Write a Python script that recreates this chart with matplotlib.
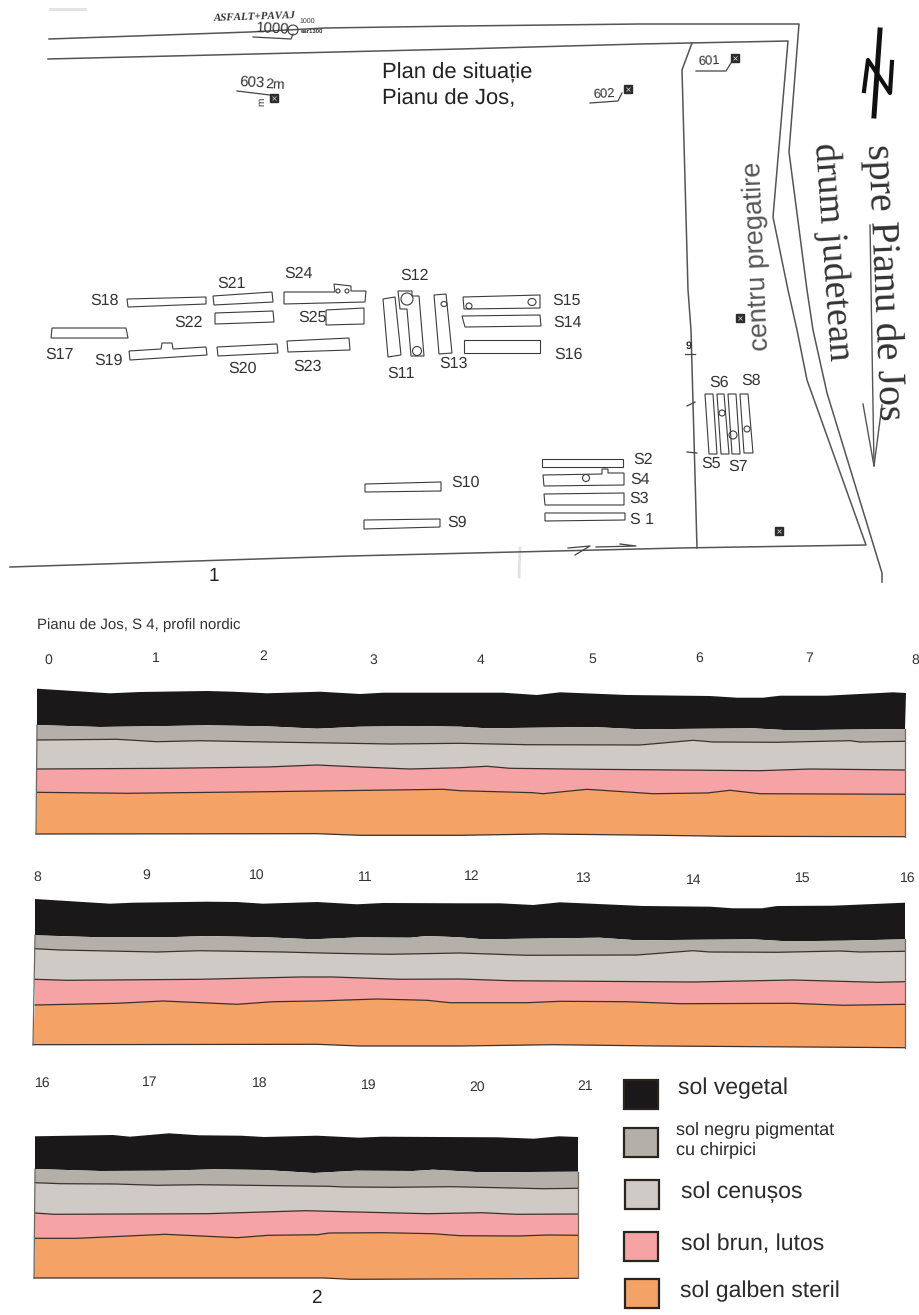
#!/usr/bin/env python3

import matplotlib
matplotlib.use('Agg')
import matplotlib.pyplot as plt
from matplotlib.patches import Ellipse, Polygon, Rectangle

plt.rcParams['font.family'] = ['Liberation Sans', 'DejaVu Sans']
plt.rcParams['text.hinting'] = 'no_hinting'
plt.rcParams['text.hinting_factor'] = 1

layer_names = ['sol vegetal', 'sol negru pigmentat\ncu chirpici', 'sol cenușos',
               'sol brun, lutos', 'sol galben steril']
layer_colors = ['#1a1818', '#b4afa8', '#cfcac5', '#f5a3a4', '#f5a267']

# profile 1, metres 0-8
p1_top_x = [37, 110, 140, 207, 233, 267, 320, 360, 383, 460, 503, 537, 560, 627, 710, 737, 763, 780, 827, 893, 906]
p1_top_y = [688.7, 693.3, 692, 691, 691.7, 693.3, 691.7, 694, 692.7, 692.7, 692.7, 695, 692.3, 695, 696, 697.7, 697.7, 695.7, 695.7, 692.3, 693]
p1_b2_x = [37, 100, 167, 207, 267, 317, 360, 417, 460, 487, 593, 640, 753, 790, 837, 905]
p1_b2_y = [725, 727, 726, 725.3, 726.3, 728.7, 726.7, 726, 726.7, 728.3, 727, 729.3, 728.3, 730.3, 729.7, 729]
p1_b3_x = [37, 117, 157, 200, 267, 333, 390, 460, 527, 640, 693, 713, 777, 850, 860, 905]
p1_b3_y = [740, 739.3, 741.7, 740.7, 742, 743, 744, 743.3, 744.7, 745, 740.3, 742, 742.3, 740.7, 742, 741.3]
p1_b4_x = [37, 167, 267, 317, 360, 410, 460, 487, 510, 593, 760, 810, 905]
p1_b4_y = [769, 768.3, 767, 765, 767, 769, 767.7, 766.3, 768.3, 769.3, 770.7, 769, 770]
p1_b5_x = [37, 127, 267, 443, 460, 533, 543, 587, 653, 707, 730, 760, 905]
p1_b5_y = [792.3, 793.3, 791.7, 789.3, 790.7, 792.7, 793.7, 789.3, 793.7, 793, 790.3, 793.7, 794.3]
p1_bot_x = [36, 317, 360, 460, 543, 660, 727, 905]
p1_bot_y = [834, 833.7, 835.3, 835.3, 834, 835.3, 836.3, 836.7]

# profile 2, metres 8-16
p2_top_x = [35, 110, 133, 207, 237, 263, 317, 357, 383, 460, 500, 533, 560, 643, 710, 733, 762, 777, 833, 905]
p2_top_y = [899, 903.7, 902.7, 901.7, 902, 903.7, 902, 904.3, 903, 903.3, 903.3, 905, 902.3, 906, 906.7, 908.3, 908.3, 906, 905.7, 902.7]
p2_b2_x = [35, 100, 167, 207, 267, 313, 360, 410, 427, 460, 483, 600, 637, 753, 787, 843, 905]
p2_b2_y = [935.3, 937.3, 937.3, 936, 937.3, 939.3, 937.3, 937.7, 936, 937.3, 939.3, 937.7, 940.3, 939.3, 941.3, 940.7, 939.3]
p2_b3_x = [35, 60, 157, 200, 283, 333, 390, 460, 527, 637, 693, 710, 777, 840, 860, 905]
p2_b3_y = [948.7, 950, 952, 950.7, 952, 953.3, 954.3, 953, 955.3, 955, 950.7, 952, 952.3, 951, 952, 951.3]
p2_b4_x = [35, 67, 200, 300, 333, 400, 460, 510, 693, 793, 877, 905]
p2_b4_y = [979.3, 980.3, 979.3, 977, 977, 979.3, 979, 980.7, 982, 980, 982.3, 981.7]
p2_b5_x = [35, 117, 163, 237, 273, 317, 377, 427, 450, 460, 527, 560, 627, 680, 793, 843, 905]
p2_b5_y = [1005, 1003.3, 1001, 1004.3, 1001.7, 1001, 999, 1000.3, 1002.7, 1002.7, 1002.7, 1001.3, 1001.7, 1003.7, 1003.3, 1005.3, 1004.3]
p2_bot_x = [33, 317, 360, 460, 553, 660, 905]
p2_bot_y = [1044.7, 1044.3, 1046, 1046, 1044.7, 1046, 1047.7]

# profile 3, metres 16-21
p3_top_x = [35, 113, 130, 169, 199, 241, 264, 317, 359, 382, 497, 534, 559, 578]
p3_top_y = [1136.3, 1135, 1136.7, 1133.3, 1135.3, 1135.7, 1137, 1135.7, 1137.7, 1136.7, 1137.3, 1138.7, 1136.3, 1137]
p3_b2_x = [35, 100, 165, 214, 264, 314, 356, 413, 433, 482, 578]
p3_b2_y = [1169, 1171, 1170.7, 1169.3, 1170, 1173, 1170.7, 1171, 1169.7, 1172.3, 1171.7]
p3_b3_x = [35, 61, 115, 157, 199, 329, 344, 394, 451, 512, 543, 578]
p3_b3_y = [1182.7, 1183.7, 1184, 1185.3, 1184.7, 1186.3, 1187, 1187.3, 1186.7, 1188, 1188.7, 1188.3]
p3_b4_x = [35, 54, 207, 306, 344, 428, 482, 516, 578]
p3_b4_y = [1213, 1214.3, 1213.7, 1210.7, 1211.7, 1213.7, 1212.7, 1214.3, 1214]
p3_b5_x = [35, 77, 165, 237, 268, 318, 329, 383, 433, 460, 518, 548, 578]
p3_b5_y = [1238.3, 1238.3, 1234.3, 1237.7, 1235.3, 1234.7, 1233, 1232.7, 1233.7, 1235.7, 1236, 1235, 1235.3]
p3_bot_x = [34, 324, 351, 519, 578]
p3_bot_y = [1278, 1278, 1279.3, 1278.7, 1278.3]

profile_1 = [(p1_top_x, p1_top_y), (p1_b2_x, p1_b2_y), (p1_b3_x, p1_b3_y), (p1_b4_x, p1_b4_y), (p1_b5_x, p1_b5_y), (p1_bot_x, p1_bot_y)]
profile_2 = [(p2_top_x, p2_top_y), (p2_b2_x, p2_b2_y), (p2_b3_x, p2_b3_y), (p2_b4_x, p2_b4_y), (p2_b5_x, p2_b5_y), (p2_bot_x, p2_bot_y)]
profile_3 = [(p3_top_x, p3_top_y), (p3_b2_x, p3_b2_y), (p3_b3_x, p3_b3_y), (p3_b4_x, p3_b4_y), (p3_b5_x, p3_b5_y), (p3_bot_x, p3_bot_y)]

metre_labels = [str(m) for m in range(9)] + [str(m) for m in range(8, 17)] + [str(m) for m in range(16, 22)]
metre_x = [48, 156, 263, 373, 481, 592, 699, 809, 915,
           37, 146, 257, 365, 472, 584, 694, 803, 908,
           43, 150, 260, 369, 477, 585]
metre_y = [660, 658, 656, 660, 660, 659, 658, 658, 660,
           877, 875, 875, 877, 876, 878, 880, 878, 878,
           1083, 1082, 1083, 1085, 1087, 1086]

legend_boxes = [(624, 1080), (624, 1128), (625, 1180), (624, 1232), (625, 1279)]
legend_text_x = [678, 676, 681, 681, 680]
legend_text_y = [1088, 1140, 1192, 1244, 1291]

# site plan
road_lines = [
    [(49, 39), (250, 32), (325, 28), (460, 26), (640, 24), (799, 24), (789, 152), (807, 290), (813, 330), (827, 393), (882, 573), (882, 582)],
    [(48, 59), (460, 49), (640, 44), (788, 41), (773, 217), (788, 290), (797, 330), (807, 380), (866, 545), (680, 548), (350, 556), (10, 567)],
    [(692, 43), (682, 70), (688, 290), (691, 330), (697, 548)],
]
trench_names = ['S18', 'S21', 'S24', 'S22', 'S25', 'S17', 'S19', 'S20', 'S23', 'S11', 'S12', 'S13', 'S15', 'S14', 'S16',
                'S10', 'S9', 'S2', 'S4', 'S3', 'S 1', 'S5', 'S6', 'S7', 'S8']
trench_label_x = [105, 232, 299, 189, 313, 60, 109, 243, 308, 401, 415, 454, 567, 568, 569,
                  466, 457, 643, 640, 639, 642, 711, 719, 738, 751]
trench_label_y = [301, 284, 274, 323, 318, 355, 361, 369, 367, 374, 276, 364, 301, 323, 355,
                  483, 523, 460, 480, 499, 520, 464, 383, 467, 381]
trench_outlines = [
    [(127, 299), (206, 297), (206, 304), (128, 307)],
    [(213, 296), (272, 292), (273, 302), (214, 305)],
    [(284, 292), (335, 292), (334, 284), (351, 286), (351, 291), (366, 291), (365, 302), (284, 304)],
    [(215, 313), (273, 311), (274, 322), (215, 324)],
    [(326, 310), (364, 308), (364, 324), (326, 325)],
    [(52, 328), (126, 328), (128, 338), (51, 338)],
    [(129, 351), (161, 349), (162, 343), (172, 343), (173, 349), (206, 347), (207, 355), (130, 360)],
    [(217, 347), (277, 344), (278, 353), (218, 356)],
    [(287, 341), (349, 338), (350, 350), (288, 352)],
    [(383, 299), (395, 297), (401, 355), (388, 357)],
    [(398, 291), (412, 291), (412, 296), (419, 296), (424, 356), (411, 356), (407, 309), (400, 309)],
    [(434, 295), (446, 294), (452, 353), (439, 354)],
    [(463, 297), (540, 295), (540, 308), (464, 309)],
    [(462, 316), (540, 315), (541, 326), (465, 327)],
    [(464, 340), (540, 340), (540, 353), (464, 353)],
    [(365, 484), (441, 482), (441, 491), (365, 492)],
    [(364, 520), (440, 519), (440, 527), (364, 529)],
    [(542, 459), (623, 459), (623, 467), (542, 467)],
    [(543, 475), (602, 474), (602, 469), (608, 469), (608, 473), (624, 473), (624, 485), (544, 486)],
    [(544, 494), (624, 493), (624, 505), (545, 505)],
    [(545, 513), (625, 513), (625, 520), (545, 521)],
    [(705, 394), (713, 394), (717, 454), (709, 454)],
    [(717, 394), (724, 394), (729, 454), (721, 454)],
    [(728, 394), (736, 394), (740, 454), (732, 454)],
    [(740, 394), (748, 394), (753, 453), (744, 453)],
]
pit_x = [338, 347, 407, 417, 444, 469, 532, 586, 722, 733, 747, 293]
pit_y = [291, 291, 299, 351, 304, 306, 302, 478, 413, 435, 429, 30]
pit_w = [4, 4, 12, 9, 6, 6, 8, 7, 6, 8, 6, 10]
pit_h = [4, 4, 12, 9, 5, 6, 7, 7, 6, 8, 6, 10]
marker_x = [274, 628, 735, 740, 779]
marker_y = [98, 89, 58, 318, 531]
leader_lines = [
    [(253, 37), (291, 39), (293, 34)],
    [(237, 91), (270, 95)],
    [(590, 103), (618, 101), (622, 93)],
    [(696, 71), (726, 71), (731, 63)],
    [(685, 354), (695, 354)],
    [(687, 406), (695, 402)],
    [(687, 452), (697, 453)],
    [(568, 548), (590, 546), (575, 555)],
    [(596, 547), (636, 546), (620, 544)],
]
smudges = [
    [(50, 9), (85, 9)],
    [(520, 548), (519, 577)],
]
north_bar = [(880, 30), (874, 116)]
north_z = [(864, 91), (868, 60), (890, 93), (892, 62)]
arrow_shaft = [(870, 225), (874, 466)]
arrow_head = [(863, 404), (874, 466), (882, 405)]

fig = plt.figure(figsize=(9.2, 13.15), dpi=100)
ax = fig.add_axes([0, 0, 1, 1])
ax.set_xlim(0, 920)
ax.set_ylim(1315, 0)
ax.axis('off')

def draw_path(points, **kw):
    ax.plot([p[0] for p in points], [p[1] for p in points], solid_joinstyle='round', **kw)

def draw_profile(bounds):
    for i, color in enumerate(layer_colors):
        top_x, top_y = bounds[i]
        bot_x, bot_y = bounds[i + 1]
        pts = list(zip(top_x, top_y)) + list(zip(bot_x, bot_y))[::-1]
        ax.add_patch(Polygon(pts, closed=True, fc=color, ec='none', zorder=2))
    for xs, ys in bounds[2:]:
        ax.plot(xs, ys, color='#3b302c', lw=0.9, zorder=3)
    # grey edge on both sides
    first_x, first_y = bounds[1]
    last_x, last_y = bounds[-1]
    ax.plot([first_x[0], last_x[0]], [first_y[0], last_y[0]], color='#6f675f', lw=0.9, zorder=3)
    ax.plot([first_x[-1], last_x[-1]], [first_y[-1], last_y[-1]], color='#6f675f', lw=0.9, zorder=3)

for profile in (profile_1, profile_2, profile_3):
    draw_profile(profile)

for label, x, y in zip(metre_labels, metre_x, metre_y):
    ax.text(x, y, label, fontsize=10, color='#333333', ha='center', va='center')

ax.text(37, 625, 'Pianu de Jos, S 4, profil nordic', fontsize=10.8, color='#333333', ha='left', va='center')
ax.text(214, 576, '1', fontsize=14, color='#222222', ha='center', va='center')
ax.text(316, 1298, '2', fontsize=14, color='#222222', ha='center', va='center')

for (x, y), name, color, tx, ty in zip(legend_boxes, layer_names, layer_colors, legend_text_x, legend_text_y):
    ax.add_patch(Rectangle((x, y), 34, 29, fc=color, ec='#2a2420', lw=1.6, zorder=2))
    small = '\n' in name
    ax.text(tx, ty, name, fontsize=13 if small else 16.3, color='#2b2b2b', ha='left', va='center',
            linespacing=1.25)

# plan
for line in smudges:
    draw_path(line, color='#e2e2e2', lw=2)
for line in road_lines:
    draw_path(line, color='#555555', lw=1.1)
for line in leader_lines:
    draw_path(line, color='#444444', lw=0.9)
for outline in trench_outlines:
    ax.add_patch(Polygon(outline, closed=True, fc='white', ec='#3c3c3c', lw=0.8, zorder=2))
for x, y, w, h in zip(pit_x, pit_y, pit_w, pit_h):
    ax.add_patch(Ellipse((x, y), w, h, fc='none', ec='#3c3c3c', lw=0.8, zorder=3))
for name, x, y in zip(trench_names, trench_label_x, trench_label_y):
    ax.text(x, y, name, fontsize=11.3, color='#333333', ha='center', va='center')

ax.plot(marker_x, marker_y, ls='none', marker='s', ms=5.5, mfc='#2c2c2c', mec='#2c2c2c')
ax.plot(marker_x, marker_y, ls='none', marker='x', ms=3, mec='#dddddd', mew=0.5)

draw_path(north_bar, color='#111111', lw=3.6)
draw_path(north_z, color='#111111', lw=3)
draw_path(arrow_shaft, color='#555555', lw=1)
draw_path(arrow_head, color='#555555', lw=1)

ax.text(382, 73, 'Plan de situație', fontsize=15.5, color='#222222', ha='left', va='center')
ax.text(382, 98, 'Pianu de Jos,', fontsize=15.5, color='#222222', ha='left', va='center')
ax.text(254, 17, 'ASFALT+PAVAJ', family='Liberation Serif', style='italic', weight='bold', fontsize=8.2,
        color='#333333', ha='center', va='center', rotation=2)
ax.text(273, 29, '1000', fontsize=10.5, color='#333333', ha='center', va='center', rotation=-3)
ax.text(307, 21, '1000', fontsize=5, color='#333333', ha='center', va='center')
ax.text(312, 31, 'ear1300', fontsize=4.5, weight='bold', color='#333333', ha='center', va='center')
ax.text(252, 83, '603', fontsize=10.5, color='#333333', ha='center', va='center', rotation=-3)
ax.text(275, 85, '2m', fontsize=10, color='#333333', ha='center', va='center', rotation=-3)
ax.text(262, 102, 'm', fontsize=7, color='#333333', ha='center', va='center', rotation=90)
ax.text(604, 94, '602', fontsize=9.5, color='#333333', ha='center', va='center', rotation=3)
ax.text(709, 61, '601', fontsize=9.5, color='#333333', ha='center', va='center', rotation=3)
ax.text(689, 346, '9', fontsize=8, weight='bold', color='#333333', ha='center', va='center')

ax.text(757, 256, 'centru pregatire', fontsize=19.5, color='#555555', ha='center', va='center', rotation=92.4)
ax.text(832, 252, 'drum judetean', family='Liberation Serif', fontsize=27.7, color='#333333',
        ha='center', va='center', rotation=-86)
ax.text(883, 282, 'spre Pianu de Jos', family='Liberation Serif', fontsize=29, color='#333333',
        ha='center', va='center', rotation=-87.5)

fig.savefig('out.png', dpi=100, facecolor='white')
